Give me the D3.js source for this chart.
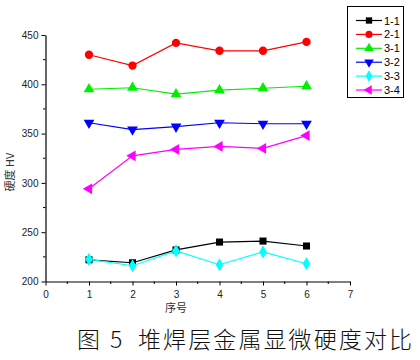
<!DOCTYPE html>
<html lang="zh">
<head>
<meta charset="UTF-8">
<title>堆焊层金属显微硬度对比</title>
<script src="https://d3js.org/d3.v7.min.js"></script>
<style>
  body { margin: 0; background: #fff; }
  .tick text { font-family: "Liberation Sans", Arial, sans-serif; font-size: 10px; fill: #222; }
  .legend text { font-family: "Liberation Sans", Arial, sans-serif; font-size: 11px; fill: #000; }
</style>
</head>
<body>
<div id="chart"></div>
<script>
// data
const samples = [1, 2, 3, 4, 5, 6];
const seriesNames = ["1-1", "2-1", "3-1", "3-2", "3-3", "3-4"];
const v11 = [222, 219, 232, 240, 241, 236];
const v21 = [430, 419, 442, 434, 434, 443];
const v31 = [395, 396.5, 390, 394, 396, 398];
const v32 = [361, 354, 357, 361, 360, 360];
const v33 = [222.5, 216, 231, 217, 230, 218];
const v34 = [294, 327.5, 334, 337, 335, 348];
const xTicks = [0, 1, 2, 3, 4, 5, 6, 7];
const yTicks = [200, 250, 300, 350, 400, 450];

const allValues = [v11, v21, v31, v32, v33, v34];
const colors = ["#000000", "#ff0000", "#00ee00", "#0000ff", "#00ffff", "#ff00ff"];
const shapes = [d3.symbolSquare, d3.symbolCircle, d3.symbolTriangle, d3.symbolTriangle, d3.symbolDiamond, d3.symbolTriangle];
const rotate = [0, 0, 0, 180, 0, -90];

const W = 420, H = 360;
const svg = d3.select("#chart").append("svg")
  .attr("width", W).attr("height", H);

const x = d3.scaleLinear().domain([0, 7]).range([45.5, 350]);
const y = d3.scaleLinear().domain([200, 450]).range([281.5, 35]);

// axes
const xAxis = svg.append("g")
  .attr("transform", `translate(0,${y(200)})`)
  .call(d3.axisBottom(x).tickValues(xTicks).tickFormat(d3.format("d")).tickSize(4).tickSizeOuter(0));
const yAxis = svg.append("g")
  .attr("transform", `translate(${x(0)},0)`)
  .call(d3.axisLeft(y).tickValues(yTicks).tickSize(4).tickSizeOuter(0));
[xAxis, yAxis].forEach(g => {
  g.select(".domain").attr("stroke", "#000").attr("stroke-width", 1.2);
  g.selectAll(".tick line").attr("stroke", "#000");
});
xAxis.selectAll(".tick text").attr("dy", "0.9em");
yAxis.selectAll(".tick text").attr("x", -7);

// minor ticks
svg.append("g").selectAll("line")
  .data(d3.range(0.5, 7, 1)).join("line")
  .attr("x1", d => x(d)).attr("x2", d => x(d))
  .attr("y1", y(200)).attr("y2", y(200) + 2.5)
  .attr("stroke", "#000");
svg.append("g").selectAll("line")
  .data(d3.range(225, 450, 50)).join("line")
  .attr("x1", x(0)).attr("x2", x(0) - 2.5)
  .attr("y1", d => y(d)).attr("y2", d => y(d))
  .attr("stroke", "#000");

// axis titles
svg.append("text")
  .attr("transform", `translate(14,172) rotate(-90)`)
  .attr("text-anchor", "middle")
  .style("font-family", "'Noto Sans CJK SC', serif")
  .style("font-size", "11px")
  .attr("fill", "#333")
  .text("硬度 HV");
svg.append("text")
  .attr("x", 176).attr("y", 312)
  .attr("text-anchor", "middle")
  .style("font-family", "'Noto Sans CJK SC', sans-serif")
  .style("font-size", "11px")
  .attr("fill", "#333")
  .text("序号");

// caption
const cap = svg.append("g")
  .style("font-family", "'Noto Sans CJK SC', sans-serif")
  .style("font-size", "23px")
  .style("font-weight", 300)
  .attr("fill", "#111");
cap.append("text").attr("x", 77).attr("y", 348).text("图");
cap.append("text").attr("x", 110).attr("y", 348).text("5");
cap.append("text").attr("x", 138).attr("y", 348)
  .attr("textLength", 274).attr("lengthAdjust", "spacing")
  .text("堆焊层金属显微硬度对比");

// series
const line = d3.line().x((d, i) => x(samples[i])).y(d => y(d));
allValues.forEach((vals, s) => {
  svg.append("path")
    .datum(vals)
    .attr("d", line)
    .attr("fill", "none")
    .attr("stroke", colors[s])
    .attr("stroke-width", 1.2);
  svg.append("g").selectAll("path")
    .data(vals).join("path")
    .attr("d", d3.symbol().type(shapes[s]).size(s === 1 ? 55 : 50))
    .attr("transform", (d, i) => `translate(${x(samples[i])},${y(d)}) rotate(${rotate[s]})`)
    .attr("fill", colors[s]);
});

// legend
const legend = svg.append("g").attr("class", "legend");
legend.append("rect")
  .attr("x", 347.5).attr("y", 6.5).attr("width", 56).attr("height", 91)
  .attr("fill", "#fff").attr("stroke", "#000").attr("stroke-width", 1);
seriesNames.forEach((name, s) => {
  const ly = 20.5 + s * 13.9;
  legend.append("line")
    .attr("x1", 356).attr("x2", 382).attr("y1", ly).attr("y2", ly)
    .attr("stroke", colors[s]).attr("stroke-width", 1.2);
  legend.append("path")
    .attr("d", d3.symbol().type(shapes[s]).size(40))
    .attr("transform", `translate(369,${ly}) rotate(${rotate[s]})`)
    .attr("fill", colors[s]);
  legend.append("text")
    .attr("x", 384).attr("y", ly + 4)
    .text(name);
});
</script>
</body>
</html>
